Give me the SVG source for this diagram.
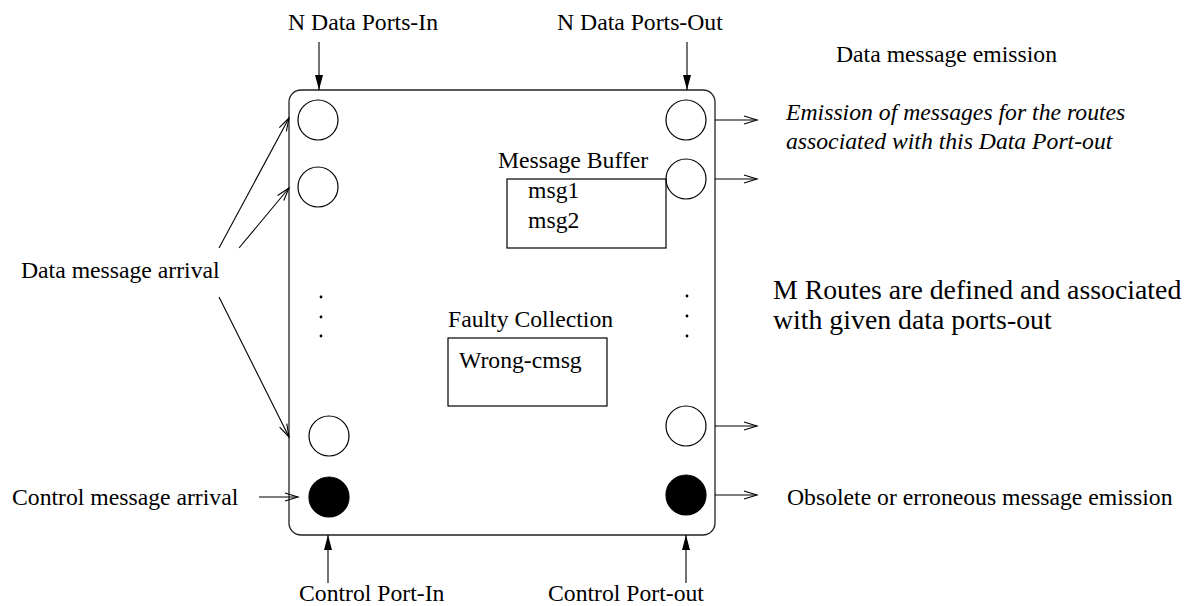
<svg xmlns="http://www.w3.org/2000/svg" width="1192" height="606" viewBox="0 0 1192 606">
<defs>
<style>
text{font-family:"Liberation Serif","Times New Roman",serif;font-size:23.7px;fill:#000}
.it{font-style:italic}
.big{font-size:27.8px}
.port{fill:#fff;stroke:#000;stroke-width:1.2}
.ctl{fill:#000;stroke:#000;stroke-width:1.2}
.box{fill:none;stroke:#000;stroke-width:1.2}
.ln{fill:none;stroke:#000;stroke-width:1.1}
</style>
<marker id="open" markerUnits="userSpaceOnUse" markerWidth="16" markerHeight="12" refX="13" refY="5" orient="auto" overflow="visible">
<path d="M0,1 L13,5 L0,9" fill="none" stroke="#000" stroke-width="1.1"/>
</marker>
<marker id="solid" markerUnits="userSpaceOnUse" markerWidth="18" markerHeight="10" refX="15" refY="4" orient="auto" overflow="visible">
<path d="M0,0 L15,4 L0,8 Z" fill="#000"/>
</marker>
</defs>
<rect x="0" y="0" width="1192" height="606" fill="#fff"/>

<g id="module">
<rect x="289" y="90" width="426" height="445" rx="12" ry="12" fill="none" stroke="#222" stroke-width="1.3"/>
</g>

<g id="port-in-1"><circle class="port" cx="318" cy="120" r="20"/></g>
<g id="port-in-2"><circle class="port" cx="318" cy="187" r="20"/></g>
<g id="port-in-n"><circle class="port" cx="329" cy="436" r="20"/></g>
<g id="control-port-in"><circle class="ctl" cx="329" cy="497" r="20"/></g>
<g id="port-out-1"><circle class="port" cx="686" cy="120" r="20"/></g>
<g id="port-out-2"><circle class="port" cx="686" cy="179" r="20"/></g>
<g id="port-out-n"><circle class="port" cx="686" cy="426" r="20"/></g>
<g id="control-port-out"><circle class="ctl" cx="686" cy="495" r="20"/></g>

<g id="dots-left"><circle cx="321" cy="297" r="1.4"/><circle cx="321" cy="317" r="1.4"/><circle cx="321" cy="336" r="1.4"/></g>
<g id="dots-right"><circle cx="687" cy="296" r="1.4"/><circle cx="687" cy="316" r="1.4"/><circle cx="687" cy="336" r="1.4"/></g>

<g id="message-buffer">
<text x="498" y="168">Message Buffer</text>
<rect class="box" x="507" y="179" width="159" height="69"/>
<text x="528" y="198">msg1</text>
<text x="528" y="228">msg2</text>
</g>

<g id="faulty-collection">
<text x="448" y="327">Faulty Collection</text>
<rect class="box" x="448" y="338" width="159" height="68"/>
<text x="459" y="368">Wrong-cmsg</text>
</g>

<g id="labels">
<text x="288" y="30">N Data Ports-In</text>
<text x="557" y="30">N Data Ports-Out</text>
<text x="836" y="62">Data message emission</text>
<text class="it" x="786" y="120">Emission of messages for the routes</text>
<text class="it" x="786" y="149">associated with this Data Port-out</text>
<text x="21" y="278">Data message arrival</text>
<text class="big" x="773" y="299">M Routes are defined and associated</text>
<text class="big" x="773" y="329">with given data ports-out</text>
<text x="12" y="505">Control message arrival</text>
<text x="787" y="505">Obsolete or erroneous message emission</text>
<text x="299" y="601">Control Port-In</text>
<text x="548" y="601">Control Port-out</text>
</g>

<g id="connectors">
<line class="ln" x1="319" y1="42" x2="319" y2="90" marker-end="url(#solid)"/>
<line class="ln" x1="687" y1="42" x2="687" y2="90" marker-end="url(#solid)"/>
<line class="ln" x1="328" y1="583" x2="328" y2="535" marker-end="url(#solid)"/>
<line class="ln" x1="686" y1="583" x2="686" y2="535" marker-end="url(#solid)"/>
<line class="ln" x1="219" y1="248" x2="289" y2="118" marker-end="url(#open)"/>
<line class="ln" x1="239" y1="248" x2="289" y2="188" marker-end="url(#open)"/>
<line class="ln" x1="219" y1="297" x2="289" y2="437" marker-end="url(#open)"/>
<line class="ln" x1="259" y1="497" x2="298" y2="497" marker-end="url(#open)"/>
<line class="ln" x1="715" y1="120" x2="757" y2="120" marker-end="url(#open)"/>
<line class="ln" x1="715" y1="179" x2="757" y2="179" marker-end="url(#open)"/>
<line class="ln" x1="715" y1="426" x2="757" y2="426" marker-end="url(#open)"/>
<line class="ln" x1="715" y1="495" x2="757" y2="495" marker-end="url(#open)"/>
</g>
</svg>
